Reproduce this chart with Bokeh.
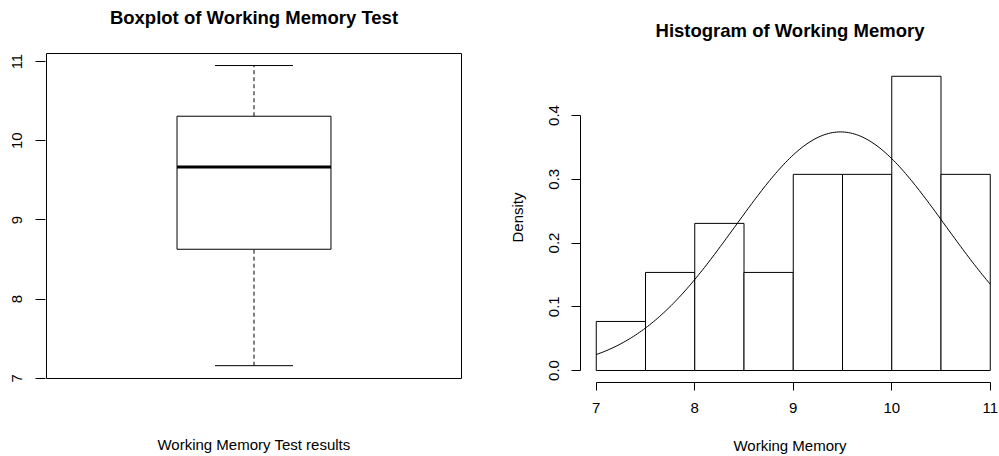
from bokeh.plotting import figure
from bokeh.layouts import row
from bokeh.models import FixedTicker, LinearAxis, CustomJSTickFormatter
from bokeh.embed import file_html
from bokeh.resources import INLINE
import numpy as np

# Five-number summary of the working memory test scores
whisker_low = 7.16
q1 = 8.63
median = 9.67
q3 = 10.31
whisker_high = 10.95

# Histogram bins and counts
bin_edges = [7.0, 7.5, 8.0, 8.5, 9.0, 9.5, 10.0, 10.5, 11.0]
bin_counts = [1, 2, 3, 2, 4, 4, 6, 4]

# Fitted normal density parameters
fit_mean = 9.48
fit_sd = 1.066

y_ticks_box = [7, 8, 9, 10, 11]
x_ticks_hist = [7, 8, 9, 10, 11]
y_ticks_hist = [0.0, 0.1, 0.2, 0.3, 0.4]

FONT = "Liberation Sans"
TITLE_SIZE = "18.5px"
TEXT_SIZE = "15px"

# Both panels share the same top/bottom borders so their frames line up
BORDER_TOP = 52
BORDER_BOTTOM = 74
HEIGHT = 456
FRAME_H = HEIGHT - BORDER_TOP - BORDER_BOTTOM


def style_axis(ax):
    ax.major_label_text_font = FONT
    ax.major_label_text_font_size = TEXT_SIZE
    ax.major_label_text_color = "#000000"
    ax.axis_label_text_font = FONT
    ax.axis_label_text_font_size = TEXT_SIZE
    ax.axis_label_text_font_style = "normal"
    ax.axis_label_text_color = "#000000"
    ax.minor_tick_line_color = None
    ax.major_tick_in = 0
    ax.axis_line_color = "#000000"
    ax.major_tick_line_color = "#000000"


def caption_axis(text, standoff, bold=False, size=TEXT_SIZE):
    """An axis without line or ticks that only carries a caption."""
    ax = LinearAxis(ticker=FixedTicker(ticks=[]))
    style_axis(ax)
    ax.axis_line_color = None
    ax.major_tick_out = 0
    ax.major_label_text_font_size = "0px"
    ax.axis_label = text
    ax.axis_label_standoff = standoff
    ax.axis_label_text_font_size = size
    ax.axis_label_text_font_style = "bold" if bold else "normal"
    return ax


# ---------------- Boxplot ----------------
# plot region of the boxplot: x 0.5..1.5, y 6.998..11.102
box_px_x = 415.0
box_px_y = 325 / (11.102 - 6.998)
bx0 = 0.5 - 1 / box_px_x
bx1 = bx0 + 417 / box_px_x
by1 = 11.102 + 1 / box_px_y
by0 = by1 - FRAME_H / box_px_y

left = figure(width=500, height=HEIGHT, x_range=(bx0, bx1), y_range=(by0, by1),
              output_backend="svg", toolbar_location=None,
              min_border_left=45, min_border_right=38,
              min_border_top=BORDER_TOP, min_border_bottom=BORDER_BOTTOM,
              x_axis_location=None, y_axis_location=None)
left.grid.visible = False
left.outline_line_color = None
left.background_fill_color = "white"
left.border_fill_color = "white"

left.add_layout(caption_axis("Boxplot of Working Memory Test", 25, bold=True, size=TITLE_SIZE), "above")

yax = LinearAxis(ticker=FixedTicker(ticks=y_ticks_box))
style_axis(yax)
yax.axis_line_color = None
yax.major_tick_out = 10
yax.major_label_orientation = "vertical"
yax.major_label_standoff = 13
left.add_layout(yax, "left")

left.add_layout(caption_axis("Working Memory Test results", 53), "below")

# box around the plot region
left.quad(left=[0.5], right=[1.5], bottom=[6.998], top=[11.102],
          fill_color=None, line_color="#000000", line_width=1)

center = 1.0
box_half = 0.1855
cap_half = 0.094
left.segment(x0=[center, center], y0=[whisker_low, q3], x1=[center, center], y1=[q1, whisker_high],
             line_color="#000000", line_width=1, line_dash="4 3")
left.segment(x0=[center - cap_half] * 2, y0=[whisker_low, whisker_high],
             x1=[center + cap_half] * 2, y1=[whisker_low, whisker_high],
             line_color="#000000", line_width=1)
left.quad(left=[center - box_half], right=[center + box_half], bottom=[q1], top=[q3],
          fill_color="white", line_color="#000000", line_width=1)
left.segment(x0=[center - box_half], y0=[median], x1=[center + box_half], y1=[median],
             line_color="#000000", line_width=3)

# ---------------- Histogram ----------------
n_total = sum(bin_counts)
widths = np.diff(bin_edges)
density = [c / (n_total * w) for c, w in zip(bin_counts, widths)]

px_per_unit = 98.5
x_start = 6.84
x_end = x_start + 419 / px_per_unit
hist_px_y = 637.5
hy1 = (370 - BORDER_TOP) / hist_px_y
hy0 = hy1 - FRAME_H / hist_px_y

right = figure(width=499, height=HEIGHT, x_range=(x_start, x_end), y_range=(hy0, hy1),
               output_backend="svg", toolbar_location=None,
               min_border_left=80, min_border_right=0,
               min_border_top=BORDER_TOP, min_border_bottom=BORDER_BOTTOM,
               x_axis_location=None, y_axis_location=None)
right.grid.visible = False
right.outline_line_color = None
right.background_fill_color = "white"
right.border_fill_color = "white"

right.add_layout(caption_axis("Histogram of Working Memory", 12, bold=True, size=TITLE_SIZE), "above")

hx = LinearAxis(ticker=FixedTicker(ticks=x_ticks_hist), bounds=(7, 11))
style_axis(hx)
hx.major_tick_out = 8
hx.major_label_standoff = 12
hx.axis_label = "Working Memory"
hx.axis_label_standoff = 21
right.add_layout(hx, "below")

hy = LinearAxis(ticker=FixedTicker(ticks=y_ticks_hist), bounds=(0, 0.4))
style_axis(hy)
hy.major_tick_out = 9
hy.major_label_orientation = "vertical"
hy.major_label_standoff = 13
hy.formatter = CustomJSTickFormatter(code="return tick.toFixed(1);")
hy.axis_label = "Density"
hy.axis_label_standoff = 20
right.add_layout(hy, "left")

right.quad(left=bin_edges[:-1], right=bin_edges[1:], bottom=0, top=density,
           fill_color="white", line_color="#000000", line_width=1)

xs = np.linspace(bin_edges[0], bin_edges[-1], 201)
ys = np.exp(-0.5 * ((xs - fit_mean) / fit_sd) ** 2) / (fit_sd * np.sqrt(2 * np.pi))
right.line(xs, ys, line_color="#000000", line_width=1)

p = row(left, right)
open("out.html", "w").write(file_html(p, INLINE))
